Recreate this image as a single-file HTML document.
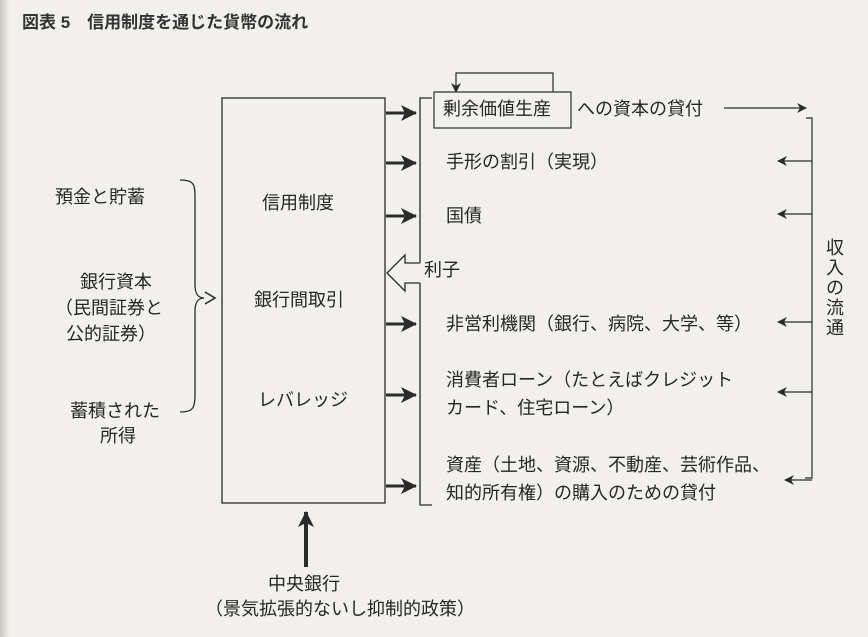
<!DOCTYPE html>
<html><head><meta charset="utf-8"><style>
body{margin:0;width:868px;height:637px;background:#f1f0ec;overflow:hidden;font-family:"Liberation Sans","Noto Sans CJK JP",sans-serif;color:#262626;}
.t{position:absolute;font-size:18px;white-space:nowrap;line-height:1;}
</style></head><body>
<div style="position:absolute;left:0;top:0;width:10px;height:637px;background:linear-gradient(90deg,#c9c7c0,#f1f0ec)"></div>
<div class="t" style="left:22px;top:14px;font-size:17px;font-weight:bold;color:#333">図表 5　信用制度を通じた貨幣の流れ</div>
<svg width="868" height="637" style="position:absolute;left:0;top:0" fill="none" stroke="#2a2a2a">
<defs>
<marker id="a" markerWidth="10" markerHeight="10" refX="9" refY="5" orient="auto" markerUnits="userSpaceOnUse"><path d="M0,0 L10,5 L0,10 L3,5 Z" fill="#2a2a2a" stroke="none"/></marker>
<marker id="b" markerWidth="16" markerHeight="16" refX="15" refY="8" orient="auto" markerUnits="userSpaceOnUse"><path d="M0,0 L16,8 L0,16 L4,8 Z" fill="#2a2a2a" stroke="none"/></marker>
</defs>
<rect x="222" y="98" width="163" height="405" stroke-width="1.3"/>
<g stroke-width="3" marker-end="url(#b)">
<line x1="386" y1="113" x2="416" y2="113"/><line x1="386" y1="163" x2="416" y2="163"/>
<line x1="386" y1="216" x2="416" y2="216"/><line x1="386" y1="324" x2="416" y2="324"/>
<line x1="386" y1="395" x2="416" y2="395"/><line x1="386" y1="486" x2="416" y2="486"/>
</g>
<polyline points="432,98 420,98 420,263" stroke-width="1.3"/>
<polyline points="420,283 420,505 432,505" stroke-width="1.3"/>
<path d="M420,263 L405,263 L405,255 L387,273 L405,291 L405,283 L420,283" stroke-width="1.3" fill="#f1f0ec"/>
<rect x="434" y="92" width="137" height="36" stroke-width="1.2"/>
<polyline points="553,92 553,73 456,73 456,92" stroke-width="1.2" marker-end="url(#a)"/>
<line x1="724" y1="108" x2="806" y2="108" stroke-width="1.2" marker-end="url(#a)"/>
<polyline points="806,118 812,118 812,478 805,478" stroke-width="1.2"/>
<g stroke-width="1.2" marker-end="url(#a)">
<line x1="812" y1="161" x2="778" y2="161"/><line x1="812" y1="214" x2="778" y2="214"/>
<line x1="812" y1="322" x2="778" y2="322"/><line x1="812" y1="392" x2="778" y2="392"/>
<line x1="812" y1="480" x2="785" y2="480"/>
</g>
<path d="M180,180 C195,180 195,185 195,200 L195,285 C195,293 198,298 204,298 C198,298 195,303 195,311 L195,395 C195,408 193,412 180,412" stroke-width="1.3"/>
<polyline points="205,292 215,298 205,304" stroke-width="1.6"/>
<line x1="306" y1="567" x2="306" y2="512" stroke-width="4" marker-end="url(#b)"/>
</svg>
<div class="t" style="left:55px;top:188px">預金と貯蓄</div>
<div class="t" style="left:80px;top:273px">銀行資本</div>
<div class="t" style="left:55px;top:299px">（民間証券と</div>
<div class="t" style="left:66px;top:325px">公的証券）</div>
<div class="t" style="left:70px;top:402px">蓄積された</div>
<div class="t" style="left:100px;top:427px">所得</div>
<div class="t" style="left:262px;top:194px">信用制度</div>
<div class="t" style="left:254px;top:291px">銀行間取引</div>
<div class="t" style="left:258px;top:391px">レバレッジ</div>
<div class="t" style="left:443px;top:100px">剰余価値生産</div>
<div class="t" style="left:577px;top:100px">への資本の貸付</div>
<div class="t" style="left:446px;top:153px">手形の割引（実現）</div>
<div class="t" style="left:446px;top:207px">国債</div>
<div class="t" style="left:424px;top:261px">利子</div>
<div class="t" style="left:446px;top:315px">非営利機関（銀行、病院、大学、等）</div>
<div class="t" style="left:446px;top:371px">消費者ローン（たとえばクレジット</div>
<div class="t" style="left:446px;top:399px">カード、住宅ローン）</div>
<div class="t" style="left:446px;top:456px">資産（土地、資源、不動産、芸術作品、</div>
<div class="t" style="left:446px;top:484px">知的所有権）の購入のための貸付</div>
<div class="t" style="left:826px;top:238px;width:18px;white-space:normal;line-height:20px">収入の流通</div>
<div class="t" style="left:268px;top:575px">中央銀行</div>
<div class="t" style="left:205px;top:600px">（景気拡張的ないし抑制的政策）</div>
</body></html>
